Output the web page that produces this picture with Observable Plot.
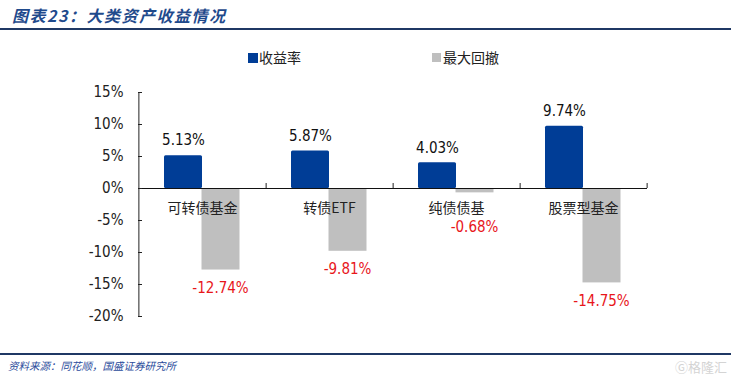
<!DOCTYPE html>
<html>
<head>
<meta charset="utf-8">
<script src="https://cdn.jsdelivr.net/npm/d3@7"></script>
<script src="https://cdn.jsdelivr.net/npm/@observablehq/plot@0.6"></script>
<style>
  html, body { margin:0; padding:0; background:#fff; }
  #wrap { position:relative; width:731px; height:382px; overflow:hidden; }
  #title { position:absolute; left:0; top:0; width:731px; height:30px; border-bottom:2px solid #1F3864;
           font-family:"Noto Sans CJK SC", sans-serif; font-style:italic; font-weight:bold; font-size:16px; letter-spacing:1.5px;
           color:#1F4A8C; line-height:30px; padding-left:12px; box-sizing:border-box; }
  #chart { position:absolute; left:0; top:33px; }
  #legend { position:absolute; top:48px; left:0; width:731px; height:20px; font-family:"Noto Sans CJK SC", serif; font-size:14px; color:#222; }
  .sw { position:absolute; top:5px; width:10px; height:10px; }
  .lt { position:absolute; top:0; line-height:18px; }
  #footer { position:absolute; left:0; top:353px; width:731px; height:29px; border-top:2px solid #1F3864; box-sizing:border-box; }
  #src { position:absolute; left:8px; top:3px; font-family:"Noto Sans CJK SC", sans-serif; font-style:italic; font-size:10.5px; color:#2A4B9B; }
  #wm { position:absolute; right:4px; top:2px; font-family:"Noto Sans CJK SC", sans-serif; font-size:13px; color:#d4d4d4; }
</style>
</head>
<body>
<div id="wrap">
  <div id="title">图表23：大类资产收益情况</div>
  <div id="chart"></div>
  <div id="legend"></div>
  <div id="footer"><span id="src">资料来源：同花顺，国盛证券研究所</span><span id="wm">Ⓖ格隆汇</span></div>
</div>
<script>
const categories = ["可转债基金", "转债ETF", "纯债债基", "股票型基金"];
const series = ["收益率", "最大回撤"];
const returns = [5.13, 5.87, 4.03, 9.74];
const drawdowns = [-12.74, -9.81, -0.68, -14.75];
const yTicks = [15, 10, 5, 0, -5, -10, -15, -20];
const colors = ["#003D96", "#BFBFBF"];

const rowsR = categories.map((c, i) => ({cat: c, series: series[0], value: returns[i]}));
const rowsD = categories.map((c, i) => ({cat: c, series: series[1], value: drawdowns[i]}));

const W = 731, H = 320, ML = 138, MR = 84, MT = 59, MB = 37;
const plotW = W - ML - MR;
const step = plotW / categories.length;
const off = 19;

const chart = Plot.plot({
  width: W, height: H,
  marginLeft: ML, marginRight: MR, marginTop: MT, marginBottom: MB,
  style: {fontFamily: "'DejaVu Sans Condensed', 'DejaVu Sans', sans-serif", fontSize: "14px", color: "#222", background: "#fff"},
  x: {domain: categories, paddingInner: 0.7, paddingOuter: 0.35, axis: null},
  y: {domain: [-20, 15], axis: null},
  marks: [
    Plot.barY(rowsR, {x: "cat", y: "value", fill: colors[0], dx: -off, inset: 0, rx: 1.5}),
    Plot.barY(rowsD, {x: "cat", y: "value", fill: colors[1], dx: off - 0.5, inset: 0}),
    Plot.ruleY([0], {stroke: "#111", strokeWidth: 1}),
    Plot.ruleX([categories[0]], {dx: -step / 2, stroke: "#222"}),
    Plot.ruleY(yTicks, {y: d => d, insetRight: plotW - 4, stroke: "#222"}),
    Plot.ruleX(categories, {x: d => d, y1: 0, y2: 0, dx: step / 2, insetTop: -5, stroke: "#222"}),
    Plot.axisY(yTicks, {tickSize: 0, tickPadding: 15, tickFormat: d => d + "%", label: null, fontSize: 15, fill: "#222"}),
    Plot.text(rowsR, {x: "cat", y: "value", text: d => d.value.toFixed(2) + "%", dx: -off, dy: -15, fill: "#111", fontSize: 15}),
    Plot.text(rowsD, {x: "cat", y: d => Math.min(d.value, -3.3), text: d => d.value.toFixed(2) + "%", dx: off - 1, dy: 18, fill: "#E8161B", fontSize: 15}),
    Plot.text(categories, {x: d => d, y: 0, dy: 20, text: d => d, fill: "#222", fontSize: 14, fontFamily: "'Noto Sans CJK SC', serif"})
  ]
});
document.getElementById("chart").appendChild(chart);

const legend = document.getElementById("legend");
const legendX = [248, 432];
series.forEach((s, i) => {
  const sw = document.createElement("div");
  sw.className = "sw";
  sw.style.left = legendX[i] + "px";
  sw.style.background = colors[i];
  if (i === 1) { sw.style.width = "9px"; sw.style.height = "9px"; sw.style.top = "5px"; }
  legend.appendChild(sw);
  const t = document.createElement("div");
  t.className = "lt";
  t.style.left = (legendX[i] + 11) + "px";
  t.textContent = s;
  legend.appendChild(t);
});
</script>
</body>
</html>
